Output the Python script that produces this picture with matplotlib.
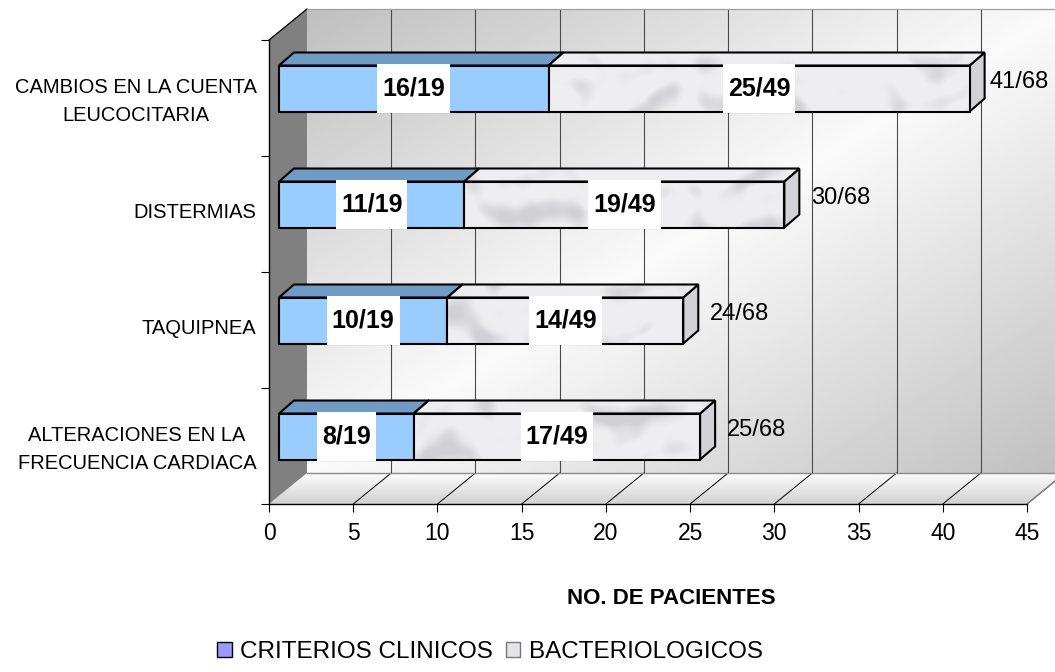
import numpy as np
import matplotlib
matplotlib.use("Agg")
import matplotlib.pyplot as plt
from matplotlib.patches import Polygon, Rectangle, Patch

# ---- data -------------------------------------------------------------
categories = ["CAMBIOS EN LA CUENTA\nLEUCOCITARIA", "DISTERMIAS", "TAQUIPNEA",
              "ALTERACIONES EN LA\nFRECUENCIA CARDIACA"]
clinicos = [16, 11, 10, 8]
bacteriologicos = [25, 19, 14, 17]
clinicos_labels = ["16/19", "11/19", "10/19", "8/19"]
bacterio_labels = ["25/49", "19/49", "14/49", "17/49"]
total_labels = ["41/68", "30/68", "24/68", "25/68"]
series_names = ["CRITERIOS CLINICOS", "BACTERIOLOGICOS"]
x_ticks = [0, 5, 10, 15, 20, 25, 30, 35, 40, 45]
x_title = "NO. DE PACIENTES"

# ---- figure / axes geometry --------------------------------------------
W, H = 1055, 672
DPI = 100
fig = plt.figure(figsize=(W / DPI, H / DPI), dpi=DPI, facecolor="white")
left, right, top, bottom = 269, 1027, 40, 504          # front plane in px
ax = fig.add_axes([left / W, 1 - bottom / H, (right - left) / W, (bottom - top) / H])
XMAX = x_ticks[-1]
n = len(categories)
ax.set_xlim(0, XMAX)
ax.set_ylim(-0.5, n - 0.5)
ypos = np.arange(n)[::-1]

ux = XMAX / (right - left)      # data units per pixel (x)
uy = n / (bottom - top)         # data units per pixel (y)

WALL_D = (38, 31)               # depth of the chart box, px
BAR_F = (10, 9.5)               # depth of bar front face, px
BAR_D = (15, 13)                # bar thickness in depth, px
BAR_HALF = 23                   # half height of bar front face, px


def shift(x, y, d):
    return (x + d[0] * ux, y + d[1] * uy)


# ---- chart box: back wall, floor, side wall -----------------------------
ylo, yhi = -0.5, n - 0.5
bw_x0, bw_y0 = shift(0, ylo, WALL_D)
bw_x1, bw_y1 = shift(XMAX, yhi, WALL_D)
u = np.linspace(0, 1, 400)[None, :]
v = np.linspace(0, 1, 300)[:, None]
t = np.abs(u + v - 1)
wall = 0.98 - (0.98 - 0.75) * t
ax.imshow(wall, cmap="gray", vmin=0, vmax=1, extent=(bw_x0, bw_x1, bw_y0, bw_y1),
          origin="upper", aspect="auto", zorder=0, clip_on=False, interpolation="bilinear")

floor_pts = [(0, ylo), (XMAX, ylo), shift(XMAX, ylo, WALL_D), shift(0, ylo, WALL_D)]
floor_poly = Polygon(floor_pts, closed=True, fc="none", ec="none")
ax.add_patch(floor_poly)
fv = np.linspace(0, 1, 60)[:, None] * np.ones((1, 300))
floor_img = 0.99 - 0.17 * fv
im = ax.imshow(floor_img, cmap="gray", vmin=0, vmax=1,
               extent=(0, XMAX + WALL_D[0] * ux, ylo, ylo + WALL_D[1] * uy),
               origin="upper", aspect="auto", zorder=0.1, interpolation="bilinear")
im.set_clip_path(floor_poly)
im.set_clip_box(fig.bbox)

side_pts = [(0, ylo), shift(0, ylo, WALL_D), shift(0, yhi, WALL_D), (0, yhi)]
ax.add_patch(Polygon(side_pts, closed=True, fc="#808080", ec="none", zorder=0.2, clip_on=False))

# box outline
ax.plot(*zip((0, yhi), shift(0, yhi, WALL_D)), color="black", lw=0.9, zorder=0.6, clip_on=False)
ax.plot(*zip(shift(0, yhi, WALL_D), shift(XMAX + 2, yhi, WALL_D)), color="#a0a0a0", lw=0.9,
        zorder=0.6, clip_on=False)
ax.plot(*zip(shift(0, ylo, WALL_D), shift(XMAX + 2, ylo, WALL_D)), color="#8a8a8a", lw=1.0,
        zorder=0.6, clip_on=False)
ax.plot(*zip((XMAX, ylo), shift(XMAX, ylo, WALL_D)), color="#8a8a8a", lw=1.0, zorder=0.6,
        clip_on=False)

# gridlines on back wall and floor
for xv in x_ticks[1:]:
    ax.plot(*zip(shift(xv, ylo, WALL_D), shift(xv, yhi, WALL_D)), color="#4a4a4a", lw=0.8,
            zorder=0.5, clip_on=False)
    ax.plot(*zip((xv, ylo), shift(xv, ylo, WALL_D)), color="black", lw=0.7, zorder=0.5,
            clip_on=False)

# ---- marble fill for the second series -----------------------------------
px = np.arange(left, W, 1.0)
py = np.arange(0, bottom, 1.0)
xx, yy = np.meshgrid(px, py)
wa = np.sin(xx / 29.0 + 2.0 * np.sin(yy / 19.0 + xx / 47.0))
wb = np.sin(yy / 11.0 - xx / 37.0 + 1.5 * np.sin(xx / 17.0))
wc = np.sin((xx + 0.6 * yy) / 61.0)
wd = np.sin(xx / 6.3 + yy / 8.1) * np.sin(xx / 9.7 - yy / 5.9)
m = 0.55 * wa * wb + 0.35 * wc * wa + 0.12 * wd
smudge = np.clip((m - 0.05) / 0.7, 0, 1) ** 1.2 * 0.42
light = np.array([0.935, 0.935, 0.945])
dark = np.array([0.66, 0.66, 0.69])
marble = light * (1 - smudge[..., None]) + dark * smudge[..., None]
marble_extent = (0, (W - left) * ux, yhi - (bottom - top) * uy, yhi + top * uy)

# ---- 3D bars ------------------------------------------------------------
front_col = ["#99CCFF", "#E6E6EA"]
top_col = ["#6F9BC4", "#EDEDF0"]
side_col = ["#5F8AB3", "#D2D2D6"]


def textured(poly, z):
    img = ax.imshow(marble, extent=marble_extent, origin="upper", aspect="auto",
                    zorder=z, interpolation="bicubic")
    img.set_clip_path(poly)
    img.set_clip_box(fig.bbox)


def box(x0, x1, yc, k, z):
    fy0, fy1 = yc - BAR_HALF * uy, yc + BAR_HALF * uy
    f0 = shift(x0, fy0, BAR_F)
    f1 = shift(x1, fy1, BAR_F)
    back = (BAR_F[0] + BAR_D[0], BAR_F[1] + BAR_D[1])
    b_tl = shift(x0, fy1, back)
    b_tr = shift(x1, fy1, back)
    b_br = shift(x1, fy0, back)
    kw = dict(ec="black", lw=1.5, joinstyle="miter", clip_on=False)
    top_poly = Polygon([(f0[0], f1[1]), (f1[0], f1[1]), b_tr, b_tl], fc=top_col[k], zorder=z, **kw)
    side_poly = Polygon([(f1[0], f0[1]), (f1[0], f1[1]), b_tr, b_br], fc=side_col[k], zorder=z, **kw)
    front = Polygon([f0, (f1[0], f0[1]), f1, (f0[0], f1[1])], fc=front_col[k],
                    zorder=z + 0.1, **kw)
    for p in (top_poly, side_poly, front):
        ax.add_patch(p)
    if k == 1:
        top_poly.set_facecolor("none")
        top_poly.set_zorder(z + 0.02)
        textured(top_poly, z + 0.01)
        front.set_facecolor("none")
        front.set_zorder(z + 0.12)
        textured(front, z + 0.11)
    return f0, f1


renderer = fig.canvas.get_renderer()


def inner_label(f0, f1, text):
    cx = (f0[0] + f1[0]) / 2
    cy = (f0[1] + f1[1]) / 2
    tx = ax.text(cx, cy, text, ha="center", va="center", fontsize=18, fontweight="bold",
                 family="Liberation Sans", zorder=6, clip_on=False)
    wpx = tx.get_window_extent(renderer).width + 10
    ax.add_patch(Rectangle((cx - wpx / 2 * ux, f0[1] - 1 * uy), wpx * ux, f1[1] - f0[1] + 3 * uy,
                           fc="white", ec="none", zorder=5.5, clip_on=False))


for i in range(n):
    yc = ypos[i]
    a, b = clinicos[i], bacteriologicos[i]
    fa0, fa1 = box(0, a, yc, 0, 2)
    fb0, fb1 = box(a, a + b, yc, 1, 3)
    inner_label(fa0, fa1, clinicos_labels[i])
    inner_label(fb0, fb1, bacterio_labels[i])
    # total label beyond the end of the stack
    tx = ax.text(0, 0, total_labels[i], fontsize=17, family="Liberation Sans",
                 ha="left", va="center", zorder=6, clip_on=False)
    wpx = tx.get_window_extent(renderer).width
    xend_px = left + (a + b) / ux + BAR_F[0] + BAR_D[0] + 12
    xend_px = min(xend_px, W - 6 - wpx)
    tx.set_position(((xend_px - left) * ux, yc + (BAR_F[1] + 7) * uy))

# ---- axes, ticks, labels -------------------------------------------------
for s in ["top", "right"]:
    ax.spines[s].set_visible(False)
for s in ["left", "bottom"]:
    ax.spines[s].set_color("black")
    ax.spines[s].set_linewidth(1.0)
    ax.spines[s].set_zorder(4)
ax.set_facecolor("none")

ax.set_xticks(x_ticks)
ax.set_xticklabels([str(v) for v in x_ticks], fontsize=16.5, family="Liberation Sans")
ax.tick_params(axis="x", length=6, width=0.8, pad=7, color="black")

ax.set_yticks(ypos + 3 * uy)
ax.set_yticklabels(categories, fontsize=14.5, family="Liberation Sans",
                   multialignment="center", linespacing=1.6)
ax.tick_params(axis="y", which="major", length=0, pad=9)
ax.set_yticks(np.arange(n + 1) - 0.5, minor=True)
ax.tick_params(axis="y", which="minor", length=6, width=0.8, color="black")

fig.text(671 / W, 1 - 599 / H, x_title, ha="center", va="center", fontsize=16,
         fontweight="bold", family="Liberation Sans")

handles = [Patch(fc="#9999FF", ec="black", lw=1.0),
           Patch(fc="#E4E4E8", ec="#777777", lw=1.0)]
fig.legend(handles, series_names, loc="center", bbox_to_anchor=(490 / W, 1 - 652 / H),
           ncol=2, frameon=False, prop={"family": "Liberation Sans", "size": 17.5},
           handlelength=0.6, handleheight=0.6, handletextpad=0.35, columnspacing=0.5,
           borderaxespad=0)

ax.set_xlim(0, XMAX)
ax.set_ylim(-0.5, n - 0.5)
fig.savefig("out.png", dpi=DPI, facecolor="white")
